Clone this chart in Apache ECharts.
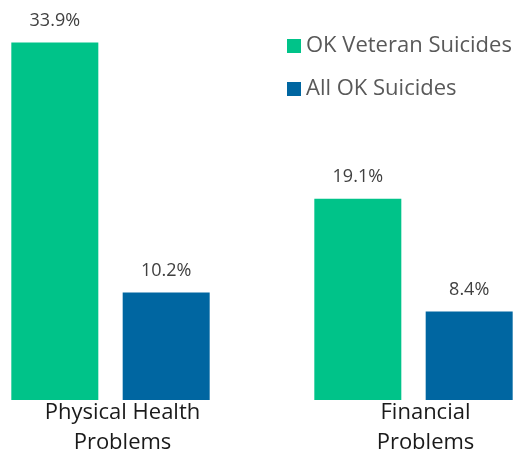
<!DOCTYPE html>
<html>
<head>
<meta charset="utf-8">
<script src="https://cdn.jsdelivr.net/npm/echarts@6/dist/echarts.min.js"></script>
<style>html,body{margin:0;padding:0;background:#fff;}#c{width:517px;height:454px;}</style>
</head>
<body>
<div id="c"></div>
<script>
var categories = ['Physical Health\nProblems', 'Financial\nProblems'];
var seriesNames = ['OK Veteran Suicides', 'All OK Suicides'];
var veteranValues = [33.9, 19.1];
var allValues = [10.2, 8.4];

var chart = echarts.init(document.getElementById('c'));
var labelStyle = {
  show: true, position: 'top', distance: 13,
  formatter: function (p) { return p.value.toFixed(1) + '%'; },
  color: '#404040', fontSize: 18, fontFamily: 'Open Sans'
};
chart.setOption({
  animation: false,
  legend: {
    orient: 'vertical', left: 282, top: 30, itemGap: 21,
    itemWidth: 14, itemHeight: 14, icon: 'rect',
    textStyle: { fontSize: 22, color: '#595959', fontFamily: 'Open Sans' },
    data: seriesNames
  },
  grid: { left: -41, width: 606, bottom: 54, top: 31, outerBoundsMode: 'none', containLabel: false },
  xAxis: {
    type: 'category', data: categories,
    axisLine: { show: false }, axisTick: { show: false },
    axisLabel: { color: '#1a1a1a', fontSize: 22, lineHeight: 30, fontFamily: 'Open Sans', margin: -2, padding: [0, 0, 0, 24] }
  },
  yAxis: { type: 'value', min: 0, max: 35, show: false, splitLine: { show: false } },
  series: [
    { name: seriesNames[0], type: 'bar', data: veteranValues, barWidth: 87, barGap: '28%', itemStyle: { color: '#00C389' }, label: labelStyle },
    { name: seriesNames[1], type: 'bar', data: allValues, barWidth: 87, itemStyle: { color: '#0066A1' }, label: labelStyle }
  ]
});
</script>
</body>
</html>
